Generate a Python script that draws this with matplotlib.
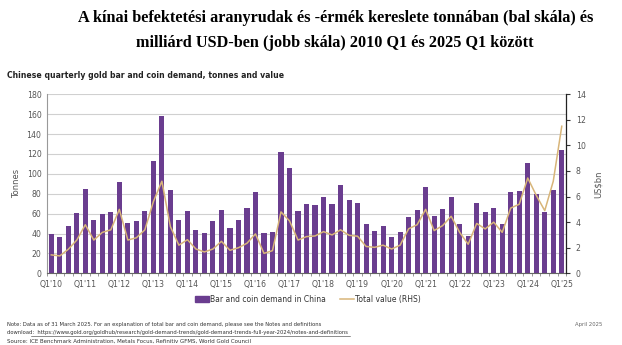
import matplotlib

matplotlib.use("Agg")
import matplotlib.pyplot as plt
import numpy as np
from matplotlib.lines import Line2D
from matplotlib.patches import Patch

# quarterly data Q1'10 .. Q1'25
years = list(range(10, 26))
tonnes = [40, 37, 48, 61, 85, 54, 60, 62, 92, 51, 53, 63, 113, 158, 84, 54,
          63, 44, 41, 53, 64, 46, 54, 66, 82, 41, 42, 122, 106, 63, 70, 69,
          77, 70, 89, 74, 71, 50, 43, 48, 37, 42, 57, 64, 87, 58, 65, 77,
          50, 38, 71, 62, 66, 50, 82, 83, 111, 80, 62, 84, 124]
value_bn = [1.44, 1.36, 1.88, 2.6, 3.8, 2.6, 3.2, 3.4, 5.0, 2.6, 2.78, 3.4,
            5.6, 7.2, 3.65, 2.2, 2.63, 1.9, 1.67, 1.9, 2.5, 1.8, 2.0, 2.35,
            3.08, 1.56, 1.77, 4.8, 4.1, 2.6, 2.87, 2.92, 3.26, 3.0, 3.4, 2.97,
            2.9, 2.1, 2.03, 2.2, 1.9, 2.2, 3.48, 3.8, 5.0, 3.34, 3.73, 4.46,
            3.2, 2.27, 3.9, 3.47, 4.0, 3.2, 5.1, 5.4, 7.45, 6.1, 4.9, 7.2, 11.5]

tick_labels = [f"Q1'{y:02d}" for y in years]

BAR = "#6a3d8f"
LINE = "#d8b579"
GREY = "#555555"

fig = plt.figure(figsize=(6.22, 3.45), dpi=100)
fig.patch.set_facecolor("white")

fig.text(0.539, 0.948, "A kínai befektetési aranyrudak és -érmék kereslete tonnában (bal skála) és",
         ha="center", va="center", family="Liberation Serif", weight="bold", fontsize=11.7)
fig.text(0.539, 0.875, "milliárd USD-ben (jobb skála) 2010 Q1 és 2025 Q1 között",
         ha="center", va="center", family="Liberation Serif", weight="bold", fontsize=11.7)
fig.text(0.011, 0.78, "Chinese quarterly gold bar and coin demand, tonnes and value",
         ha="left", va="center", weight="bold", fontsize=5.6, color="#222222")

ax = fig.add_axes([0.0756, 0.2078, 0.8344, 0.519])
x = np.arange(len(tonnes))
ax.bar(x, tonnes, width=0.6, color=BAR, zorder=3)
ax.set_xlim(-0.5, len(tonnes) - 0.5)
ax.set_ylim(0, 180)
ax.set_yticks(range(0, 181, 20))
ax.yaxis.grid(True, color="#d0d0d0", linewidth=0.8, zorder=0)
ax.set_axisbelow(True)
ax.set_xticks(x[::4])
ax.set_xticklabels(tick_labels, fontsize=5.6, color=GREY)
ax.set_xticks(np.arange(-0.5, len(tonnes), 1), minor=True)
ax.tick_params(axis="x", which="major", length=0, pad=5)
ax.tick_params(axis="x", which="minor", length=2, color="#888888", width=0.6)
ax.tick_params(axis="y", length=0, labelsize=5.6, labelcolor=GREY, pad=4)
ax.set_ylabel("Tonnes", fontsize=6, color=GREY, labelpad=4)
for side in ("top", "right"):
    ax.spines[side].set_visible(False)
ax.spines["left"].set_color("#999999")
ax.spines["left"].set_linewidth(0.8)
ax.spines["bottom"].set_color("#666666")
ax.spines["bottom"].set_linewidth(0.8)

ax2 = ax.twinx()
ax2.plot(x, value_bn, color=LINE, linewidth=1.1, zorder=4, solid_joinstyle="round")
ax2.set_ylim(0, 14)
ax2.set_yticks(range(0, 15, 2))
ax2.tick_params(axis="y", length=3, labelsize=5.6, labelcolor=GREY, color="#333333", pad=4)
ax2.set_ylabel("US$bn", fontsize=6, color=GREY, labelpad=6)
for side in ("top", "left", "bottom"):
    ax2.spines[side].set_visible(False)
ax2.spines["right"].set_color("#222222")
ax2.spines["right"].set_linewidth(0.9)

handles = [Patch(color=BAR, label="Bar and coin demand in China"),
           Line2D([0], [0], color=LINE, linewidth=1.1, label="Total value (RHS)")]
fig.legend(handles=handles, loc="center", bbox_to_anchor=(0.495, 0.133), ncol=2,
           frameon=False, fontsize=5.5, handlelength=1.8, handleheight=0.7,
           columnspacing=1.8, handletextpad=0.15, labelcolor="#333333")

fig.text(0.011, 0.058, "Note: Data as of 31 March 2025. For an explanation of total bar and coin demand, "
         "please see the Notes and definitions", fontsize=3.8, color="#333333", va="center")
fig.text(0.011, 0.035, "download:  https://www.gold.org/goldhub/research/gold-demand-trends/"
         "gold-demand-trends-full-year-2024/notes-and-definitions",
         fontsize=3.8, color="#333333", va="center")
fig.add_artist(Line2D([0.050, 0.562], [0.026, 0.026], color="#333333", linewidth=0.4))
fig.text(0.011, 0.012, "Source: ICE Benchmark Administration, Metals Focus, Refinitiv GFMS, World Gold Council",
         fontsize=4.0, color="#333333", va="center")
fig.text(0.968, 0.058, "April 2025", fontsize=3.8, color="#666666", va="center", ha="right")

fig.savefig("out.png", dpi=100)
